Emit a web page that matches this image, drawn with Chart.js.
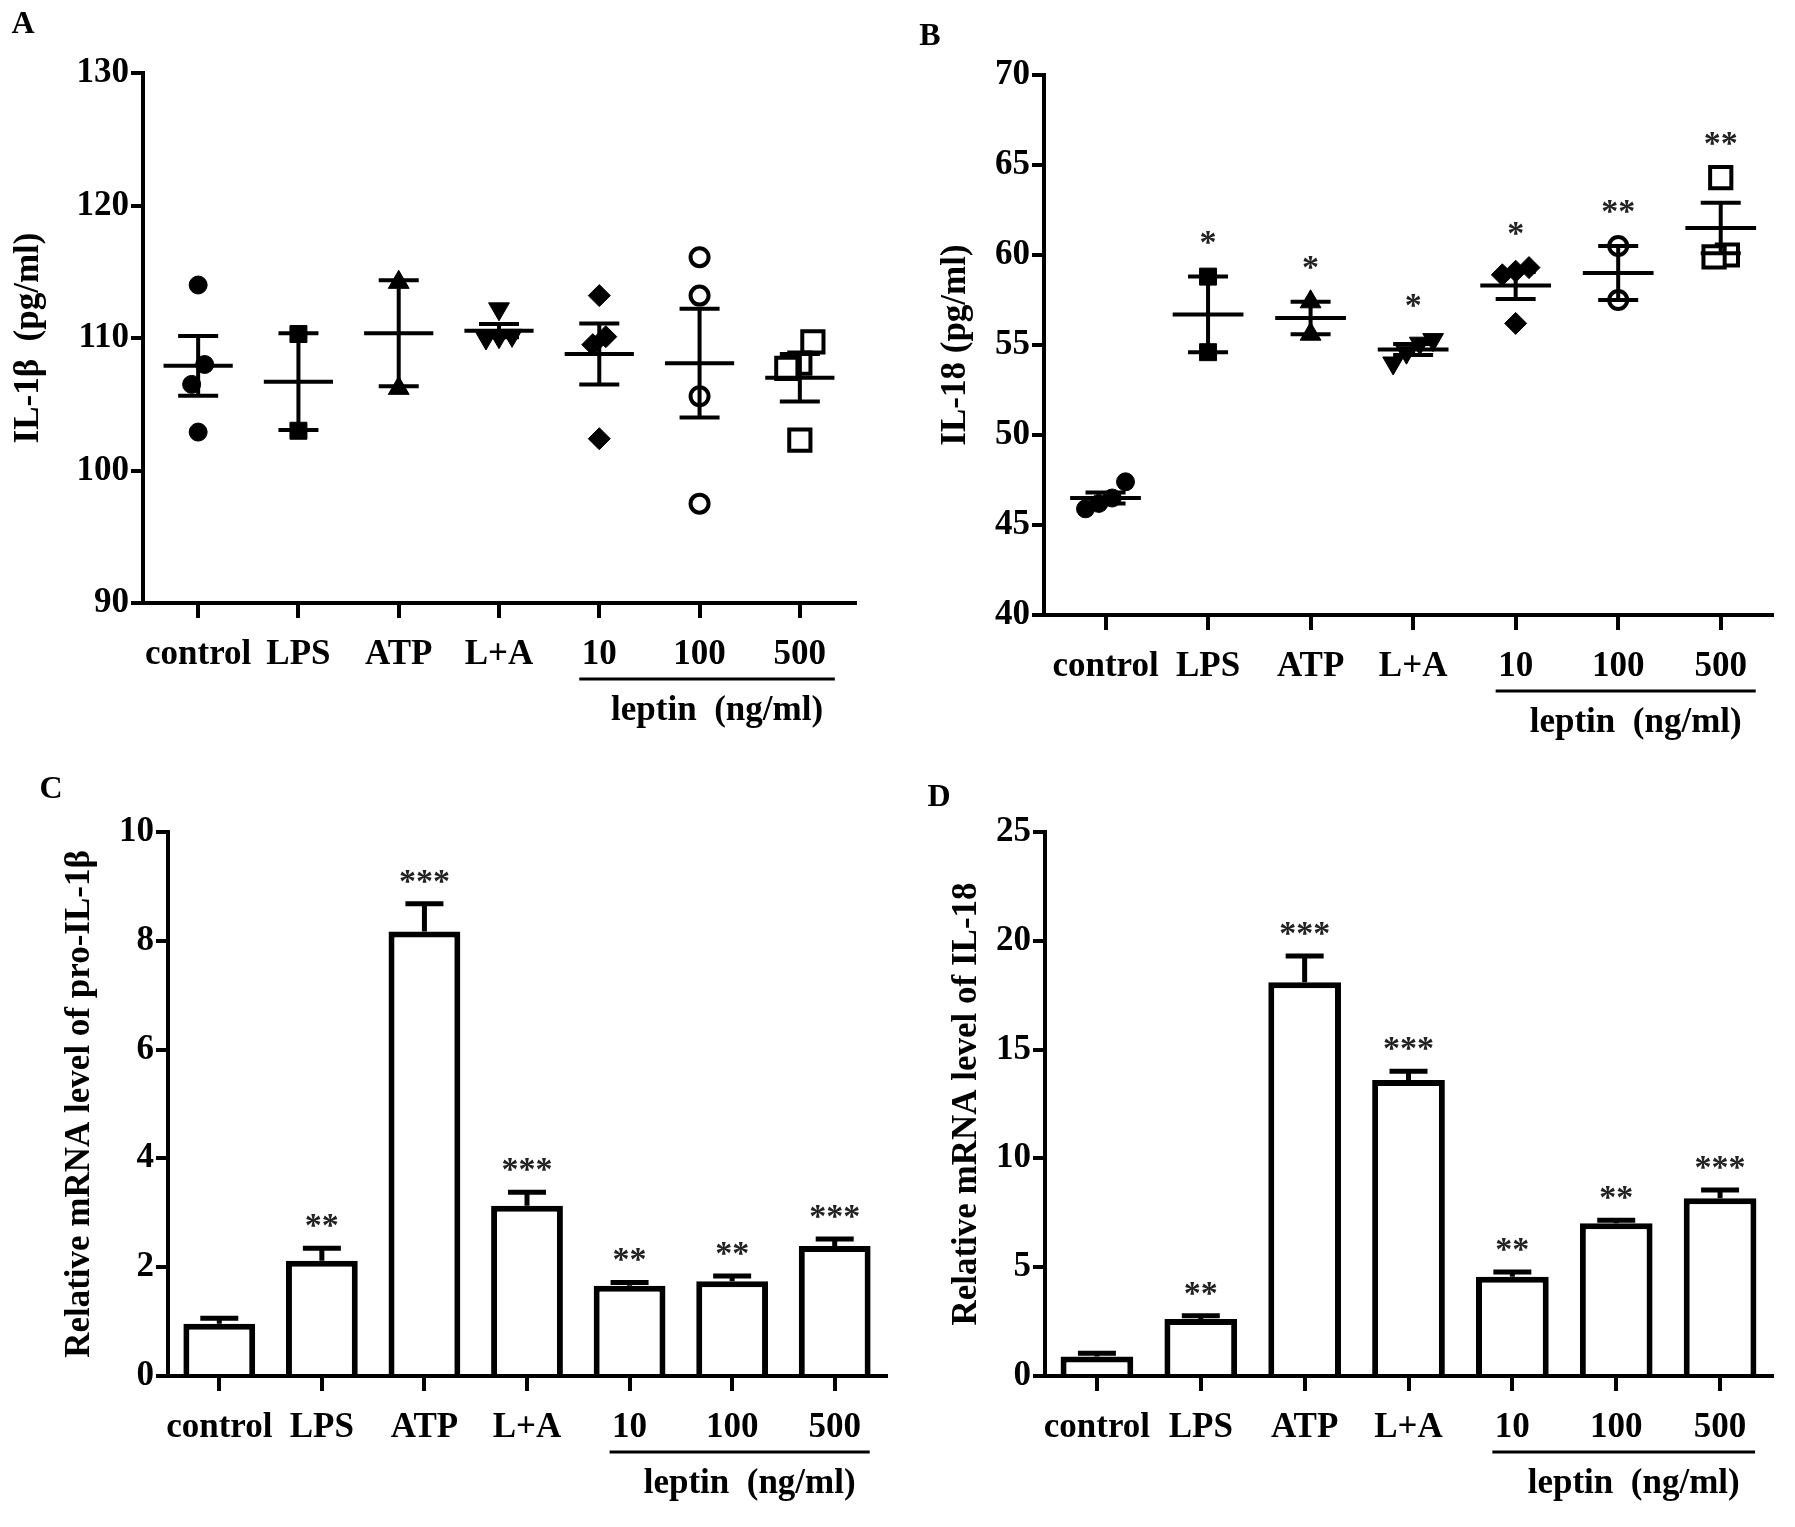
<!DOCTYPE html>
<html>
<head>
<meta charset="utf-8">
<script src="https://cdn.jsdelivr.net/npm/chart.js@4/dist/chart.umd.min.js"></script>
<style>
  body { margin: 0; background: #fff; width: 1795px; height: 1527px; position: relative; overflow: hidden; }
  canvas { position: absolute; }
</style>
</head>
<body>
<canvas id="chartA" width="897" height="763" style="left:0px;top:0px"></canvas>
<canvas id="chartB" width="898" height="763" style="left:897px;top:0px"></canvas>
<canvas id="chartC" width="897" height="764" style="left:0px;top:763px"></canvas>
<canvas id="chartD" width="898" height="764" style="left:897px;top:763px"></canvas>
<script>
const groups = ["control", "LPS", "ATP", "L+A", "10", "100", "500"];

// A - IL-1β (pg/ml), single values per group
const il1bPoints = [
  [114.0, 108.0, 106.5, 102.9],
  [110.3, 103.0],
  [114.2, 106.2],
  [112.2, 110.1, 110.2, 110.0],
  [113.2, 110.1, 109.5, 102.4],
  [116.1, 113.2, 105.6, 97.5],
  [109.7, 108.1, 107.7, 102.3]
];
const il1bMean = [107.9, 106.7, 110.35, 110.55, 108.8, 108.1, 107.0];
const il1bSem = [2.25, 3.65, 4.0, 0.5, 2.3, 4.1, 1.8];
const il1bStars = ["", "", "", "", "", "", ""];

// B - IL-18 (pg/ml)
const il18Points = [
  [47.4, 46.5, 46.2, 45.9],
  [58.8, 54.6],
  [57.4, 55.6],
  [55.3, 55.1, 54.6, 54.0],
  [59.3, 59.1, 58.9, 56.2],
  [60.5, 57.5],
  [64.3, 60.0, 59.9]
];
const il18Mean = [46.5, 56.7, 56.5, 54.75, 58.3, 59.0, 61.5];
const il18Sem = [0.3, 2.1, 0.9, 0.3, 0.75, 1.5, 1.4];
const il18Stars = ["", "*", "*", "*", "*", "**", "**"];

// C - relative mRNA of pro-IL-1β
const proIl1bMean = [0.96, 2.12, 8.17, 3.13, 1.66, 1.74, 2.39];
const proIl1bSem = [0.1, 0.23, 0.51, 0.25, 0.06, 0.1, 0.13];
const proIl1bStars = ["", "**", "***", "***", "**", "**", "***"];

// D - relative mRNA of IL-18
const il18MrnaMean = [0.9, 2.62, 18.1, 13.6, 4.56, 7.02, 8.17];
const il18MrnaSem = [0.15, 0.15, 1.2, 0.4, 0.22, 0.14, 0.38];
const il18MrnaStars = ["", "**", "***", "***", "**", "**", "***"];

const FONT = "'Liberation Serif', 'Times New Roman', serif";
const INK = "#000";

// marker look for each group in the dot plots
const markers = [
  { style: "circle", r: 9, fill: INK },
  { style: "rect", r: 12, fill: INK },
  { style: "triangle", r: 12, fill: INK },
  { style: "triangle", r: 12, fill: INK, rot: 180 },
  { style: "rectRot", r: 11, fill: INK },
  { style: "circle", r: 9, fill: "#fff" },
  { style: "rect", r: 15, fill: "#fff" }
];

// spread near-equal values sideways like a column scatter
function spread(vals, thr, step) {
  const idx = vals.map((v, i) => i).sort((a, b) => vals[a] - vals[b]);
  const off = new Array(vals.length).fill(0);
  let start = 0;
  for (let k = 1; k <= idx.length; k++) {
    if (k === idx.length || vals[idx[k]] - vals[idx[k - 1]] > thr) {
      const n = k - start;
      for (let j = start; j < k; j++) off[idx[j]] = (j - start - (n - 1) / 2) * step;
      start = k;
    }
  }
  return off;
}

function yAxis(min, max, step, title, titlePad, width) {
  return {
    min: min, max: max,
    ticks: { stepSize: step, color: INK, padding: 2, font: { family: FONT, size: 35, weight: "bold" } },
    grid: { drawOnChartArea: false, drawTicks: true, tickLength: 12, color: INK, lineWidth: 4 },
    border: { display: true, color: INK, width: 4 },
    title: { display: true, text: title, color: INK, padding: { top: titlePad, bottom: 0 },
             font: { family: FONT, size: 35, weight: "bold" } },
    afterFit: s => { s.width = width; }
  };
}

function xStyle(height) {
  return {
    ticks: { color: INK, padding: 16, autoSkip: false, maxRotation: 0, font: { family: FONT, size: 35, weight: "bold" } },
    grid: { drawOnChartArea: false, drawTicks: true, tickLength: 15, color: INK, lineWidth: 4, offset: false },
    border: { display: true, color: INK, width: 4 },
    afterFit: s => { s.height = height; }
  };
}

function decor(letter, lx, ly) {
  return {
    id: "decor",
    afterDraw(chart) {
      const ctx = chart.ctx, x = chart.scales.x, area = chart.chartArea;
      ctx.save();
      ctx.fillStyle = INK;
      ctx.strokeStyle = INK;
      ctx.textAlign = "center";
      ctx.textBaseline = "middle";
      ctx.font = "bold 32px " + FONT;
      ctx.fillText(letter, lx, ly);
      const x0 = x.getPixelForValue(4) - 20, x1 = x.getPixelForValue(6) + 35;
      ctx.lineWidth = 3;
      ctx.beginPath();
      ctx.moveTo(x0, area.bottom + 76);
      ctx.lineTo(x1, area.bottom + 76);
      ctx.stroke();
      ctx.font = "bold 35px " + FONT;
      ctx.fillText("leptin  (ng/ml)", (x0 + x1) / 2 + 10, area.bottom + 108);
      ctx.restore();
    }
  };
}

function starText(ctx, txt, cx, baseY) {
  if (!txt) return;
  ctx.font = "bold 34px " + FONT;
  ctx.textAlign = "center";
  ctx.textBaseline = "alphabetic";
  ctx.fillStyle = "#222";
  ctx.fillText(txt, cx, baseY);
}

function makeDots(id, points, mean, sem, stars, yMin, yMax, yStep, title, titlePad, box, xr, letter, lp) {
  const canvas = document.getElementById(id);
  const W = canvas.width, H = canvas.height;
  const thr = (yMax - yMin) * 0.045;
  const datasets = points.map((vals, i) => {
    const m = markers[i];
    const off = spread(vals, thr, 0.13);
    return {
      data: vals.map((v, j) => ({ x: i + off[j], y: v })),
      pointStyle: m.style,
      pointRadius: m.r,
      pointRotation: m.rot || 0,
      pointBackgroundColor: m.fill,
      pointBorderColor: INK,
      pointBorderWidth: m.fill === INK ? 1 : 4
    };
  });
  const meanSem = {
    id: "meanSem",
    afterDatasetsDraw(chart) {
      const ctx = chart.ctx, x = chart.scales.x, y = chart.scales.y;
      ctx.save();
      ctx.strokeStyle = INK;
      ctx.lineWidth = 4;
      mean.forEach((mv, i) => {
        const cx = x.getPixelForValue(i);
        const half = x.getPixelForValue(i + 0.345) - cx;
        const yM = y.getPixelForValue(mv);
        const yHi = y.getPixelForValue(mv + sem[i]);
        const yLo = y.getPixelForValue(mv - sem[i]);
        ctx.beginPath();
        ctx.moveTo(cx - half, yM); ctx.lineTo(cx + half, yM);
        ctx.moveTo(cx, yHi); ctx.lineTo(cx, yLo);
        ctx.moveTo(cx - 20, yHi); ctx.lineTo(cx + 20, yHi);
        ctx.moveTo(cx - 20, yLo); ctx.lineTo(cx + 20, yLo);
        ctx.stroke();
        const top = Math.max(Math.max(...points[i]), mv + sem[i]);
        starText(ctx, stars[i], cx, y.getPixelForValue(top) - 24);
      });
      ctx.restore();
    }
  };
  const xs = xStyle(H - box.bottom);
  xs.type = "linear";
  xs.min = xr[0];
  xs.max = xr[1];
  xs.afterBuildTicks = axis => { axis.ticks = groups.map((g, i) => ({ value: i })); };
  xs.ticks.callback = v => groups[v];
  return new Chart(canvas, {
    type: "scatter",
    data: { datasets: datasets },
    options: {
      responsive: false,
      animation: false,
      events: [],
      layout: { padding: { left: 0, top: box.top, right: W - box.right, bottom: 0 } },
      plugins: { legend: { display: false }, tooltip: { enabled: false } },
      scales: { x: xs, y: yAxis(yMin, yMax, yStep, title, titlePad, box.left) }
    },
    plugins: [meanSem, decor(letter, lp[0], lp[1])]
  });
}

function makeBars(id, mean, sem, stars, yMax, yStep, title, titlePad, box, letter, lp) {
  const canvas = document.getElementById(id);
  const W = canvas.width, H = canvas.height;
  const errBars = {
    id: "errBars",
    afterDatasetsDraw(chart) {
      const ctx = chart.ctx, y = chart.scales.y;
      const bars = chart.getDatasetMeta(0).data;
      ctx.save();
      ctx.strokeStyle = INK;
      ctx.lineWidth = 5;
      mean.forEach((mv, i) => {
        const cx = bars[i].x;
        const yM = y.getPixelForValue(mv);
        const yHi = y.getPixelForValue(mv + sem[i]);
        ctx.beginPath();
        ctx.moveTo(cx, yM); ctx.lineTo(cx, yHi);
        ctx.moveTo(cx - 19, yHi); ctx.lineTo(cx + 19, yHi);
        ctx.stroke();
        starText(ctx, stars[i], cx, yHi - 12);
      });
      ctx.restore();
    }
  };
  const xs = xStyle(H - box.bottom);
  return new Chart(canvas, {
    type: "bar",
    data: {
      labels: groups,
      datasets: [{
        data: mean,
        backgroundColor: "#fff",
        borderColor: INK,
        borderWidth: 6,
        categoryPercentage: 1,
        barPercentage: 0.7
      }]
    },
    options: {
      responsive: false,
      animation: false,
      events: [],
      layout: { padding: { left: 0, top: box.top, right: W - box.right, bottom: 0 } },
      plugins: { legend: { display: false }, tooltip: { enabled: false } },
      scales: { x: xs, y: yAxis(0, yMax, yStep, title, titlePad, box.left) }
    },
    plugins: [errBars, decor(letter, lp[0], lp[1])]
  });
}

makeDots("chartA", il1bPoints, il1bMean, il1bSem, il1bStars, 90, 130, 10, "IL-1β  (pg/ml)", 8,
  { left: 143, top: 73, right: 855, bottom: 603 }, [-0.55, 6.55], "A", [23, 25]);
makeDots("chartB", il18Points, il18Mean, il18Sem, il18Stars, 40, 70, 5, "IL-18 (pg/ml)", 38,
  { left: 147, top: 75, right: 875, bottom: 615 }, [-0.6, 6.5], "B", [33, 37]);
makeBars("chartC", proIl1bMean, proIl1bSem, proIl1bStars, 10, 2, "Relative mRNA level of pro-IL-1β", 59,
  { left: 168, top: 69, right: 886, bottom: 613 }, "C", [51, 27]);
makeBars("chartD", il18MrnaMean, il18MrnaSem, il18MrnaStars, 25, 5, "Relative mRNA level of IL-18", 49,
  { left: 148, top: 69, right: 875, bottom: 613 }, "D", [42, 35]);
</script>
</body>
</html>
